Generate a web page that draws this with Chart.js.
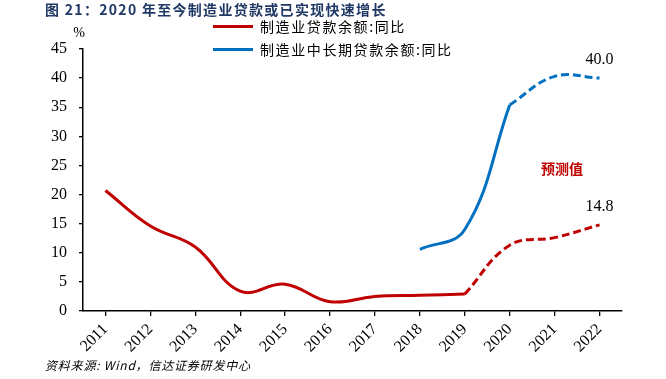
<!DOCTYPE html>
<html>
<head>
<meta charset="utf-8">
<script src="https://cdn.jsdelivr.net/npm/chart.js@4.4.1/dist/chart.umd.min.js"></script>
<style>
  body { margin: 0; background: #fff; }
  #wrap { position: relative; width: 666px; height: 379px; overflow: hidden; }
  #title { position: absolute; left: 45px; top: 0px; font: bold 14px "Noto Sans CJK SC", sans-serif; color: #1f3864; letter-spacing: 1.3px; line-height: 18px; white-space: nowrap; }
  #source { position: absolute; left: 45px; top: 356px; font: italic 12px "Noto Sans CJK SC", sans-serif; color: #000; letter-spacing: 0.8px; white-space: nowrap; }
  .leg { position: absolute; left: 213px; font: 14px "Noto Sans CJK SC", sans-serif; color: #000; letter-spacing: 1.6px; white-space: nowrap; line-height: 18px; }
  .leg span { display: inline-block; width: 40px; height: 3px; vertical-align: middle; margin-right: 7px; margin-top: -3px; }
</style>
</head>
<body>
<div id="wrap">
  <canvas id="myChart" width="666" height="379"></canvas>
  <div id="title">图 21：2020 年至今制造业贷款或已实现快速增长</div>
  <div class="leg" style="top:17px"><span style="background:#c00000"></span>制造业贷款余额:同比</div>
  <div class="leg" style="top:40px"><span style="background:#0070c0"></span>制造业中长期贷款余额:同比</div>
  <div id="source">资料来源: Wind，信达证券研发中心</div>
</div>
<script>
var years = ['2011', '2012', '2013', '2014', '2015', '2016', '2017', '2018', '2019', '2020', '2021', '2022'];
var loanYoy = [20.7, 14.6, 11.0, 3.4, 4.6, 1.6, 2.5, 2.7, 2.9, null, null, null];
var loanYoyForecast = [null, null, null, null, null, null, null, null, 2.9, 11.3, 12.6, 14.8];
var longLoanYoy = [null, null, null, null, null, null, null, 10.6, 14.0, 35.4, null, null];
var longLoanYoyForecast = [null, null, null, null, null, null, null, null, null, 35.4, 40.3, 40.0];
var yTicks = [0, 5, 10, 15, 20, 25, 30, 35, 40, 45];

var RED = '#c00000';
var BLUE = '#0070c0';

// labels drawn on the chart: %, forecast note, last values
var extraText = {
    id: 'extraText',
    afterDatasetsDraw: function (chart) {
        var ctx = chart.ctx;
        var area = chart.chartArea;
        ctx.save();
        ctx.fillStyle = '#000';
        ctx.textAlign = 'center';
        ctx.textBaseline = 'middle';
        ctx.font = '14px "Liberation Serif", serif';
        ctx.fillText('%', area.left - 4, area.top - 16);

        ctx.font = '16px "Liberation Serif", serif';
        var last = years.length - 1;
        var p1 = chart.getDatasetMeta(3).data[last];
        ctx.fillText(longLoanYoyForecast[last].toFixed(1), p1.x, p1.y - 18);
        var p2 = chart.getDatasetMeta(1).data[last];
        ctx.fillText(loanYoyForecast[last].toFixed(1), p2.x, p2.y - 18);

        ctx.fillStyle = RED;
        ctx.font = 'bold 14px "Noto Sans CJK SC", sans-serif';
        var xs = chart.scales.x, ys = chart.scales.y;
        ctx.fillText('预测值', (xs.getPixelForValue(10) + xs.getPixelForValue(11)) / 2 - 15, ys.getPixelForValue(24.5));
        ctx.restore();
    }
};

function initGraph() {
    var data = {
        labels: years,
        datasets: [
            { label: '制造业贷款余额:同比', data: loanYoy, borderColor: RED, borderWidth: 3 },
            { label: '制造业贷款余额:同比(预测)', data: loanYoyForecast, borderColor: RED, borderWidth: 3, borderDash: [8, 4] },
            { label: '制造业中长期贷款余额:同比', data: longLoanYoy, borderColor: BLUE, borderWidth: 3 },
            { label: '制造业中长期贷款余额:同比(预测)', data: longLoanYoyForecast, borderColor: BLUE, borderWidth: 3, borderDash: [8, 4] }
        ]
    };
    data.datasets.forEach(function (d) {
        d.pointRadius = 0;
        d.tension = 0.4;
        d.fill = false;
        d.spanGaps = false;
    });
    var config = {
        type: 'line',
        data: data,
        plugins: [extraText],
        options: {
            responsive: false,
            animation: false,
            layout: { padding: { left: 0, right: 44, top: 49, bottom: 18 } },
            plugins: { legend: { display: false }, tooltip: { enabled: false } },
            scales: {
                x: {
                    offset: true,
                    afterFit: function (s) { s.height = 50; },
                    grid: { drawOnChartArea: false, drawTicks: true, tickLength: 5, color: '#000', lineWidth: 1.3 },
                    border: { display: true, color: '#000', width: 1.5 },
                    ticks: {
                        color: '#000', autoSkip: false, maxRotation: 45, minRotation: 45, padding: 4,
                        font: { family: '"Liberation Serif", serif', size: 16 }
                    }
                },
                y: {
                    min: 0, max: 45,
                    afterFit: function (s) { s.width = 83; },
                    afterBuildTicks: function (s) { s.ticks = yTicks.map(function (v) { return { value: v }; }); },
                    grid: { drawOnChartArea: false, drawTicks: true, tickLength: 4, color: '#000', lineWidth: 1.3 },
                    border: { display: true, color: '#000', width: 1.5 },
                    ticks: {
                        color: '#000', padding: 12,
                        font: { family: '"Liberation Serif", serif', size: 16 }
                    }
                }
            }
        }
    };
    new Chart(document.getElementById('myChart'), config);
}
initGraph();
</script>
</body>
</html>
